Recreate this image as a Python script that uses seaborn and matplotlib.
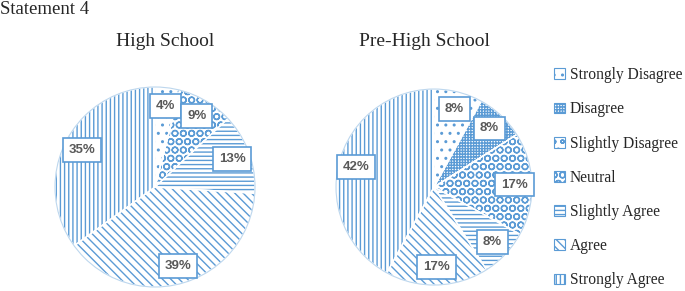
import matplotlib
matplotlib.use("Agg")
import matplotlib.pyplot as plt
from matplotlib.patches import Patch
import seaborn as sns

sns.set_theme(style="white")
plt.rcParams["font.family"] = ["Liberation Serif", "DejaVu Serif"]
plt.rcParams["hatch.linewidth"] = 1.0

# Data
categories = ["Strongly Disagree", "Disagree", "Slightly Disagree", "Neutral",
              "Slightly Agree", "Agree", "Strongly Agree"]
high_school = [4, 0, 0, 9, 13, 39, 35]
pre_high_school = [8, 8, 0, 17, 8, 17, 42]
chart_title = "Statement 4"
group_titles = ["High School", "Pre-High School"]

blue = "#5B9BD5"
hatches = ["..", "++++++", "oo", "OO", "----", "\\\\\\\\", "||||"]


def pct_label(p):
    return f"{p:.0f}%" if p > 0.5 else ""


fig = plt.figure(figsize=(6.85, 2.91), dpi=100)

# pie boxes in figure fraction [left, bottom, width, height]
boxes = [[0.0774, 0.0069, 0.2978, 0.701], [0.4876, 0.0138, 0.292, 0.687]]

for values, box in zip([high_school, pre_high_school], boxes):
    ax = fig.add_axes(box)
    wedges, texts, autotexts = ax.pie(
        values, startangle=90, counterclock=False, radius=1,
        colors=["white"] * len(values), autopct=pct_label, pctdistance=0.82,
        wedgeprops=dict(linewidth=0, edgecolor=blue),
        textprops=dict(fontfamily="Liberation Sans", fontweight="bold",
                       fontsize=9.5, color="#595959"),
    )
    for w, h in zip(wedges, hatches):
        w.set_hatch(h)
    # white separators and outline
    ax.pie(values, startangle=90, counterclock=False, radius=1,
           colors=["none"] * len(values),
           wedgeprops=dict(linewidth=1.0, edgecolor="white", fill=False))
    ax.add_patch(plt.Circle((0, 0), 1, fill=False, edgecolor="#BDD7EE", lw=0.8))
    for t in autotexts:
        t.set_bbox(dict(facecolor="white", edgecolor=blue, linewidth=1.2,
                        boxstyle="square,pad=0.45"))
    ax.set_xlim(-1.02, 1.02)
    ax.set_ylim(-1.02, 1.02)
    ax.set_aspect("equal")

fig.text(0.0, 0.998, chart_title, ha="left", va="top", fontsize=13.5)
fig.text(165 / 685, 1 - 42 / 291, group_titles[0], ha="center", va="center", fontsize=14)
fig.text(424 / 685, 1 - 42 / 291, group_titles[1], ha="center", va="center", fontsize=14)

handles = [Patch(facecolor="white", edgecolor=blue, hatch=h, linewidth=0.8)
           for h in hatches]
fig.legend(handles, categories, loc="upper left",
           bbox_to_anchor=(548 / 685, 1 - 61 / 291), frameon=False,
           fontsize=11.2, handlelength=0.7, handleheight=0.7,
           handletextpad=0.3, labelspacing=1.17, borderaxespad=0)

fig.savefig("out.png", dpi=100)
